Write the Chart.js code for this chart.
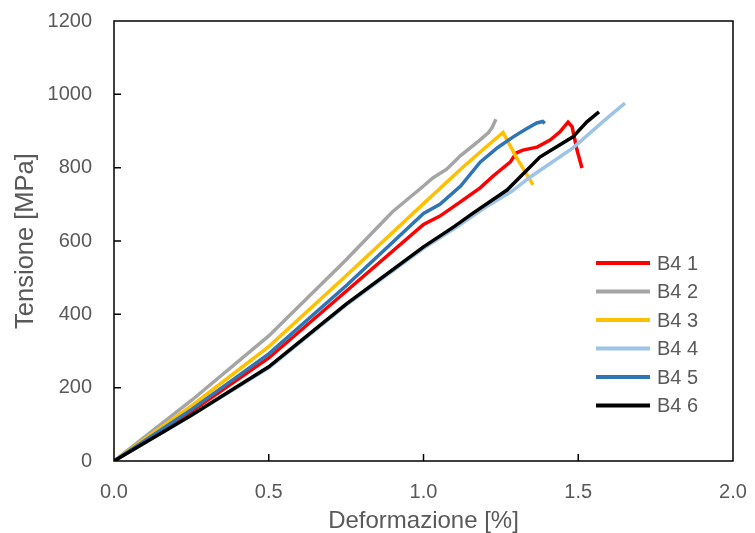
<!DOCTYPE html>
<html>
<head>
<meta charset="utf-8">
<script src="https://cdn.jsdelivr.net/npm/chart.js@4.4.1/dist/chart.umd.min.js"></script>
<style>
  html, body { margin: 0; padding: 0; background: #ffffff; }
  #wrap { width: 755px; height: 533px; position: relative; }
</style>
</head>
<body>
<div id="wrap"><canvas id="c" width="755" height="533"></canvas></div>
<script>
// ---- Data (strain in %, stress in MPa) ----
const seriesLabels = ['B4 1', 'B4 2', 'B4 3', 'B4 4', 'B4 5', 'B4 6'];

const b41Strain = [0, 0.25, 0.5, 0.75, 1.0, 1.053, 1.118, 1.183, 1.226, 1.28, 1.30, 1.321, 1.367, 1.409, 1.44, 1.467, 1.48, 1.496, 1.512];
const b41Stress = [0, 135, 281, 463, 645, 668, 706, 745, 778, 815, 840, 848, 856, 875, 897, 924, 912, 848, 799];

const b42Strain = [0, 0.25, 0.5, 0.75, 0.9, 1.0, 1.03, 1.075, 1.12, 1.183, 1.21, 1.222, 1.234];
const b42Stress = [0, 165, 341, 549, 680, 750, 772, 796, 833, 876, 896, 910, 932];

const b43Strain = [0, 0.25, 0.5, 0.75, 1.0, 1.128, 1.2, 1.257, 1.3, 1.354];
const b43Stress = [0, 150, 312, 505, 702, 802, 855, 896, 828, 753];

const b44Strain = [0, 0.25, 0.5, 0.75, 1.0, 1.1, 1.2, 1.283, 1.344, 1.483, 1.593, 1.651];
const b44Stress = [0, 124, 254, 425, 580, 634, 692, 734, 774, 854, 935, 976];

const b45Strain = [0, 0.25, 0.5, 0.75, 1.0, 1.053, 1.12, 1.183, 1.24, 1.29, 1.33, 1.366, 1.385, 1.392];
const b45Stress = [0, 140, 292, 478, 675, 700, 750, 815, 855, 884, 905, 922, 926, 921];

const b46Strain = [0, 0.25, 0.5, 0.75, 1.0, 1.1, 1.16, 1.27, 1.376, 1.483, 1.528, 1.567];
const b46Stress = [0, 125, 257, 428, 584, 640, 676, 739, 829, 884, 925, 952];

const seriesColors = ['#FF0000', '#A5A5A5', '#FFC000', '#9DC3E6', '#2E75B6', '#000000'];

const xTickValues = [0, 0.5, 1.0, 1.5, 2.0];
const yTickValues = [0, 200, 400, 600, 800, 1000, 1200];

const strains = [b41Strain, b42Strain, b43Strain, b44Strain, b45Strain, b46Strain];
const stresses = [b41Stress, b42Stress, b43Stress, b44Stress, b45Stress, b46Stress];

const FONT = '"Liberation Sans", Arial, sans-serif';
const TEXT = '#595959';

const datasets = seriesLabels.map((lab, i) => ({
  label: lab,
  data: strains[i].map((x, k) => ({ x: x, y: stresses[i][k] })),
  borderColor: seriesColors[i],
  backgroundColor: seriesColors[i],
  borderWidth: 3.5,
  pointRadius: 0,
  pointHoverRadius: 0,
  tension: 0,
  fill: false,
  order: seriesLabels.length - i
}));

function zeroPad(s) {
  s.paddingTop = 0; s.paddingBottom = 0; s.paddingLeft = 0; s.paddingRight = 0;
}

// frame, inner ticks and legend
const decor = {
  id: 'decor',
  afterDatasetsDraw(chart) {
    const ctx = chart.ctx;
    const a = chart.chartArea;
    const xs = chart.scales.x, ys = chart.scales.y;
    ctx.save();
    ctx.strokeStyle = '#000000';
    ctx.lineWidth = 1.5;
    ctx.strokeRect(a.left, a.top, a.right - a.left, a.bottom - a.top);
    ctx.beginPath();
    xTickValues.forEach(v => {
      if (v <= xs.min || v >= xs.max) return;
      const px = xs.getPixelForValue(v);
      ctx.moveTo(px, a.bottom);
      ctx.lineTo(px, a.bottom - 7);
    });
    yTickValues.forEach(v => {
      if (v <= ys.min || v >= ys.max) return;
      const py = ys.getPixelForValue(v);
      ctx.moveTo(a.left, py);
      ctx.lineTo(a.left + 7, py);
    });
    ctx.stroke();

    // legend
    const lx0 = 596, lx1 = 650, tx = 657, y0 = 263, dy = 28.5;
    ctx.font = '20px ' + FONT;
    ctx.textBaseline = 'middle';
    ctx.textAlign = 'left';
    chart.data.datasets.forEach((ds, i) => {
      const y = y0 + i * dy;
      ctx.beginPath();
      ctx.strokeStyle = ds.borderColor;
      ctx.lineWidth = 4;
      ctx.moveTo(lx0, y);
      ctx.lineTo(lx1, y);
      ctx.stroke();
      ctx.fillStyle = TEXT;
      ctx.fillText(ds.label, tx, y + 1);
    });
    ctx.restore();
  }
};

new Chart(document.getElementById('c'), {
  type: 'line',
  data: { datasets: datasets },
  options: {
    responsive: false,
    animation: false,
    devicePixelRatio: 1,
    layout: { padding: { top: 21, right: 22, left: 0, bottom: 0 } },
    plugins: { legend: { display: false }, tooltip: { enabled: false } },
    scales: {
      x: {
        type: 'linear',
        min: 0, max: 2,
        afterBuildTicks(s) { s.ticks = xTickValues.map(v => ({ value: v })); },
        afterFit(s) { s.height = 72; zeroPad(s); },
        grid: { display: false, drawTicks: false },
        border: { display: false },
        ticks: {
          padding: 19,
          color: TEXT,
          font: { family: FONT, size: 20 },
          maxRotation: 0,
          callback: v => Number(v).toFixed(1)
        },
        title: {
          display: true,
          text: 'Deformazione [%]',
          color: TEXT,
          font: { family: FONT, size: 24, lineHeight: 1.0 },
          padding: { top: 0, bottom: 0 }
        }
      },
      y: {
        type: 'linear',
        min: 0, max: 1200,
        afterBuildTicks(s) { s.ticks = yTickValues.map(v => ({ value: v })); },
        afterFit(s) { s.width = 114; zeroPad(s); },
        grid: { display: false, drawTicks: false },
        border: { display: false },
        ticks: {
          padding: 22,
          color: TEXT,
          font: { family: FONT, size: 20 },
          callback: v => String(v)
        },
        title: {
          display: true,
          text: 'Tensione [MPa]',
          color: TEXT,
          font: { family: FONT, size: 25.5, lineHeight: 1.0 },
          padding: { top: 13, bottom: 0 }
        }
      }
    }
  },
  plugins: [decor]
});
</script>
</body>
</html>
